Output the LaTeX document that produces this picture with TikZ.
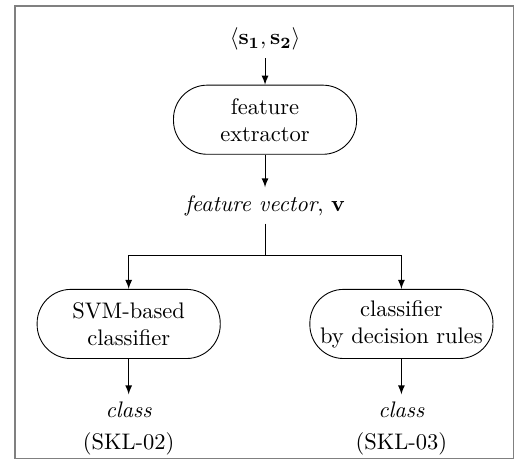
\documentclass[tikz,border=0pt]{standalone}
\usetikzlibrary{positioning}

\tikzset{
  block/.style={draw, rectangle, rounded corners=15pt, minimum width=2.86cm,
    minimum height=1.08cm, align=center, inner sep=3pt},
  label/.style={align=center},
  flow/.style={-latex}
}

\begin{document}
\begin{tikzpicture}

% Frame and page size
\useasboundingbox (-4.14,-6.565) rectangle (3.92,0.61);
\draw[gray, line width=0.8pt] (-3.9,-6.55) rectangle (3.88,0.52);

% Input pair and feature extraction
\node (input) at (0,0) {$\langle\mathbf{s_1},\mathbf{s_2}\rangle$};
\node[block] (extractor) at (0,-1.26) {feature\\extractor};
\node (vector) at (0,-2.6) {\textit{feature vector}, $\mathbf{v}$};

% Branching point
\coordinate (split) at (0,-3.38);

% Two classifiers
\node[block] (svm) at (-2.13,-4.45) {SVM-based\\classifier};
\node[block] (rules) at (2.13,-4.45) {classifier\\by decision rules};

% Outputs
\node[label, anchor=north] (outsvm) at (-2.13,-5.55) {\textit{class}\\[2pt](SKL-02)};
\node[label, anchor=north] (outrules) at (2.13,-5.55) {\textit{class}\\[2pt](SKL-03)};

% Connectors
\draw[flow] (input) -- (extractor);
\draw[flow] (extractor) -- (vector);
\draw (vector) -- (split);
\draw[flow] (split) -| (svm);
\draw[flow] (split) -| (rules);
\draw[flow] (svm) -- (outsvm);
\draw[flow] (rules) -- (outrules);

\end{tikzpicture}
\end{document}
